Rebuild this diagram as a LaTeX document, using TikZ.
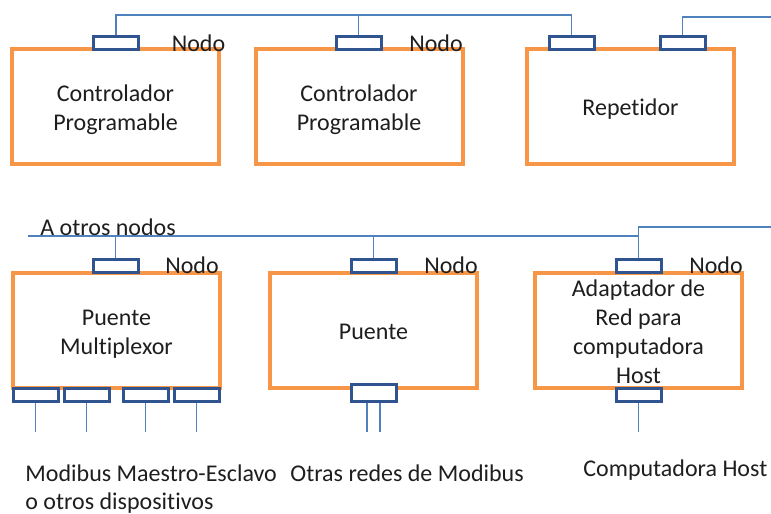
\documentclass[tikz,border=0pt]{standalone}
\usepackage{fontspec}
\setmainfont[Ligatures=NoCommon]{Carlito}
\definecolor{boxorange}{HTML}{F79646}
\definecolor{portblue}{HTML}{2F5490}
\definecolor{busblue}{HTML}{4F81BD}
\definecolor{ink}{HTML}{1E1E1E}
\begin{document}
\begin{tikzpicture}[x=0.5pt,y=-0.5pt,
  every node/.style={text=ink, font=\fontsize{12pt}{14.5pt}\selectfont},
  unit/.style={draw=boxorange, line width=2pt, fill=white, rectangle,
    minimum width=103.5pt, minimum height=57.5pt, inner sep=0pt},
  unittext/.style={inner sep=0pt, align=center},
  port/.style={draw=portblue, line width=1.5pt, fill=white, rectangle,
    minimum width=22.5pt, minimum height=6.5pt, inner sep=0pt},
  tallport/.style={port, minimum height=8.5pt},
  bus/.style={draw=busblue, line width=0.8pt},
  caption/.style={inner sep=0pt, align=left}]
\useasboundingbox (0,0) rectangle (771,514);

% bus levels and free ends
\coordinate (busA) at (0,15);
\coordinate (busB) at (771,17);
\coordinate (busC) at (28,236);
\coordinate (busD) at (771,227);
\coordinate (drop) at (0,432);

% upper row of units
\node[unit] (ctl1) at (115.5,106.5) {};
\node[unit] (ctl2) at (359,106.5) {};
\node[unit] (rep) at (630.5,106.5) {};
\node[unittext] (ctl1-t) at ([yshift=-1.75pt]ctl1.center) {Controlador\\Programable};
\node[unittext] (ctl2-t) at ([yshift=-1.75pt]ctl2.center) {Controlador\\Programable};
\node[unittext] (rep-t) at ([yshift=-1.5pt]rep.center) {Repetidor};

\node[port] (p1) at (116,42.5) {};
\node[port] (p2) at (358.5,42.5) {};
\node[port] (p3a) at (571.5,42.5) {};
\node[port] (p3b) at (682.5,42.5) {};

\node[inner sep=0pt] (n1) at (198.5,43) {Nodo};
\node[inner sep=0pt] (n2) at (436,43) {Nodo};

% lower row of units
\node[unit] (mux) at (116.5,330) {};
\node[unit] (brg) at (373.5,330) {};
\node[unit] (ada) at (638.5,330) {};
\node[unittext] (mux-t) at ([yshift=-2pt]mux.center) {Puente\\Multiplexor};
\node[unittext] (brg-t) at ([yshift=-1pt]brg.center) {Puente};
\node[unittext, text depth=0pt] (ada-t) at ([yshift=-0.75pt]ada.center) {Adaptador de\\Red para\\computadora\\Host};

\node[port] (p4) at (115.5,266) {};
\node[port] (p5) at (373.5,266) {};
\node[port] (p6) at (638.5,266) {};

\node[port] (q1) at (35.5,394.5) {};
\node[port] (q2) at (86.5,394.5) {};
\node[port] (q3) at (145.5,394.5) {};
\node[port] (q4) at (196.5,394.5) {};
\node[tallport] (q5) at (373.5,392.5) {};
\node[port] (q6) at (638.5,394.5) {};

\node[inner sep=0pt] (n4) at (192,265) {Nodo};
\node[inner sep=0pt] (n5) at (451,265) {Nodo};
\node[inner sep=0pt] (n6) at (716,265) {Nodo};

% upper network
\draw[bus] (p1.north) -- (p1.north |- busA) -| (p3a.north);
\draw[bus] (p2.north) -- (p2.north |- busA);
\draw[bus] (p3b.north) |- (busB);

% lower network
\draw[bus] (busC) -- (busC -| p6.north) -- (p6.north);
\draw[bus] (busC -| p6.north) |- (busD);
\draw[bus] (p4.north) -- (p4.north |- busC);
\draw[bus] (p5.north) -- (p5.north |- busC);

% field connections
\foreach \q in {q1,q2,q3,q4,q6}
  \draw[bus] (\q.south) -- (\q.south |- drop);
\draw[bus] ([xshift=-3.25pt]q5.south) -- ([xshift=-3.25pt]q5.south |- drop);
\draw[bus] ([xshift=3.25pt]q5.south) -- ([xshift=3.25pt]q5.south |- drop);

% captions
\node[caption, anchor=west] (other) at (40,227) {A otros nodos};
\node[caption, anchor=north west, font=\fontsize{12pt}{14pt}\selectfont] (slaves) at (25,464) {Modibus Maestro-Esclavo\\o otros dispositivos};
\node[caption, anchor=north west] (nets) at (290,464) {Otras redes de Modibus};
\node[caption, anchor=north west] (host) at (583,459) {Computadora Host};
\end{tikzpicture}
\end{document}
